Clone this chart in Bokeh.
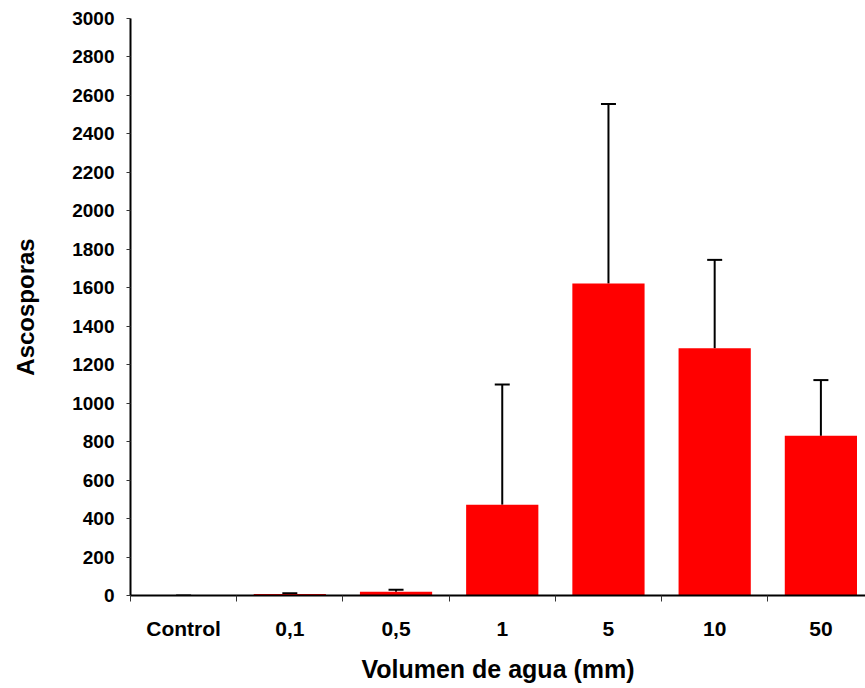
from bokeh.plotting import figure
from bokeh.models import (Range1d, FixedTicker, Whisker, TeeHead, ColumnDataSource,
                          CustomJSTickFormatter)
from bokeh.embed import file_html
from bokeh.resources import INLINE

categories = ["Control", "0,1", "0,5", "1", "5", "10", "50"]
values = [0, 8, 20, 472, 1622, 1285, 830]
errors = [0, 4, 10, 625, 933, 460, 290]
y_ticks = list(range(0, 3001, 200))

x = [i + 0.5 for i in range(len(categories))]
upper = [v + e for v, e in zip(values, errors)]
src = ColumnDataSource(dict(x=x, top=values, upper=upper))

FONT = "Liberation Sans"

p = figure(width=865, height=688, x_range=Range1d(0, 6.92), y_range=Range1d(0, 3000),
           output_backend="svg", toolbar_location=None,
           min_border_left=130, min_border_right=0, min_border_top=18, min_border_bottom=93)
p.outline_line_color = None
p.xgrid.visible = False
p.ygrid.visible = False
p.background_fill_color = "white"
p.border_fill_color = "white"

p.vbar(x="x", top="top", width=0.68, bottom=0, source=src,
       fill_color="#FF0000", line_color=None)

w = Whisker(source=src, base="x", lower="top", upper="upper",
            line_color="black", line_width=2,
            upper_head=TeeHead(size=15, line_width=2, line_color="black"),
            lower_head=None)
p.add_layout(w)

# y axis
ya = p.yaxis[0]
ya.ticker = FixedTicker(ticks=y_ticks)
ya.axis_label = "Ascosporas"
ya.axis_label_text_font = FONT
ya.axis_label_text_font_style = "bold"
ya.axis_label_text_font_size = "24px"
ya.axis_label_text_color = "black"
ya.axis_label_standoff = 30
ya.major_label_text_font = FONT
ya.major_label_text_font_style = "bold"
ya.major_label_text_font_size = "19px"
ya.major_label_text_color = "black"
ya.major_label_standoff = 12
ya.major_tick_out = 4
ya.major_tick_in = 0
ya.major_tick_line_color = "#333333"
ya.minor_tick_line_color = None
ya.axis_line_color = "black"
ya.axis_line_width = 2

# x axis
xa = p.xaxis[0]
xa.ticker = FixedTicker(ticks=x, minor_ticks=list(range(0, len(categories) + 1)))
xa.formatter = CustomJSTickFormatter(args=dict(labels=categories),
                                     code="const i = Math.floor(tick); return (i >= 0 && i < labels.length) ? labels[i] : '';")
xa.axis_label = "Volumen de agua (mm)"
xa.axis_label_text_font = FONT
xa.axis_label_text_font_style = "bold"
xa.axis_label_text_font_size = "25px"
xa.axis_label_text_color = "black"
xa.axis_label_standoff = 12
xa.major_label_text_font = FONT
xa.major_label_text_font_style = "bold"
xa.major_label_text_font_size = "21px"
xa.major_label_text_color = "black"
xa.major_label_standoff = 15
xa.major_tick_line_color = None
xa.major_tick_out = 0
xa.major_tick_in = 0
xa.minor_tick_line_color = "#333333"
xa.minor_tick_out = 6
xa.minor_tick_in = 0
xa.axis_line_color = "black"
xa.axis_line_width = 2

open("out.html", "w").write(file_html(p, INLINE))
